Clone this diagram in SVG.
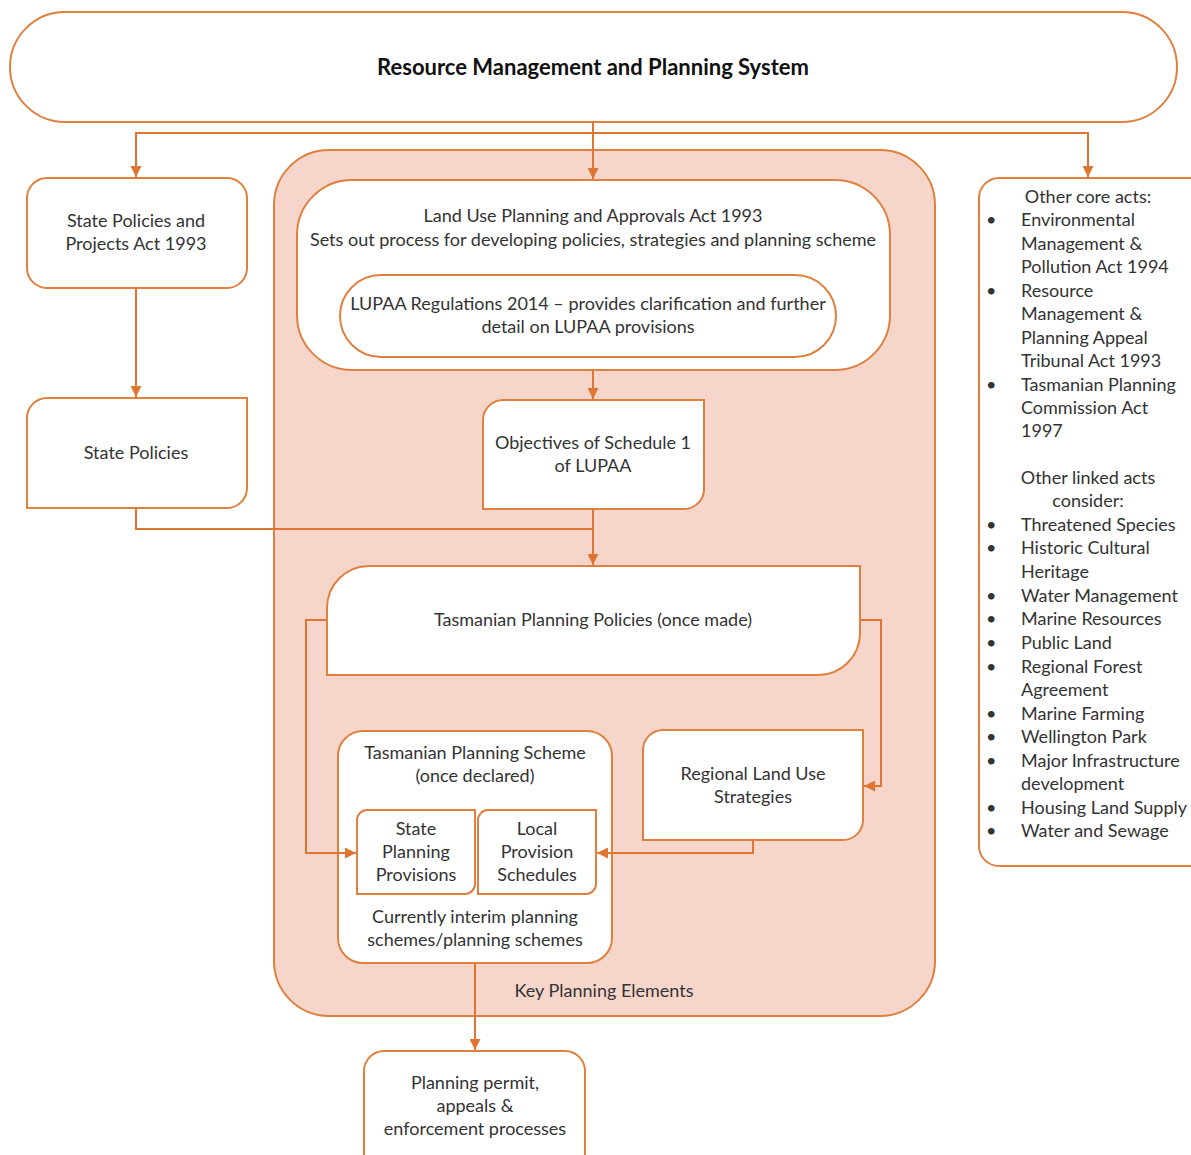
<svg xmlns="http://www.w3.org/2000/svg" width="1191" height="1155" viewBox="0 0 1191 1155">
<defs>
<marker id="arr" viewBox="0 0 10 10" refX="10" refY="5" markerWidth="11" markerHeight="11" markerUnits="userSpaceOnUse" orient="auto">
<path d="M0,0 L10,5 L0,10 Z" fill="#df7530"/>
</marker>
<style>
.box{fill:#ffffff;stroke:#e0803f;stroke-width:2}
.cont{fill:#f6d6cb;stroke:#e0803f;stroke-width:2}
.t{font-family:Lato,"Liberation Sans",sans-serif;font-size:18px;fill:#333;text-anchor:middle}
.l{font-family:Lato,"Liberation Sans",sans-serif;font-size:18px;fill:#333}
.title{font-family:Lato,"Liberation Sans",sans-serif;font-size:22px;font-weight:bold;fill:#111;text-anchor:middle}
.c{fill:none;stroke:#df7530;stroke-width:2}
</style>
</defs>

<g id="top">
<rect class="box" x="10" y="12" width="1167" height="110" rx="55" ry="55"/>
<text class="title" x="593" y="75">Resource Management and Planning System</text>
</g>

<g id="key-planning-elements">
<rect class="cont" x="274" y="150" width="661" height="866" rx="55" ry="55"/>
<text class="t" x="604" y="997">Key Planning Elements</text>
</g>

<g id="spp-act">
<rect class="box" x="27" y="178" width="220" height="110" rx="20" ry="20"/>
<text class="t" x="136" y="227">State Policies and</text>
<text class="t" x="136" y="250">Projects Act 1993</text>
</g>

<g id="state-policies">
<path class="box" d="M27,418 A20,20 0 0 1 47,398 H247 V488 A20,20 0 0 1 227,508 H27 Z"/>
<text class="t" x="136" y="459">State Policies</text>
</g>

<g id="lupaa">
<rect class="box" x="297" y="180" width="593" height="190" rx="55" ry="55"/>
<text class="t" x="593" y="222">Land Use Planning and Approvals Act 1993</text>
<text class="t" x="593" y="246">Sets out process for developing policies, strategies and planning scheme</text>
</g>

<g id="lupaa-regs">
<rect class="box" x="340" y="275" width="496" height="82" rx="41" ry="41"/>
<text class="t" x="588" y="310">LUPAA Regulations 2014 – provides clarification and further</text>
<text class="t" x="588" y="333">detail on LUPAA provisions</text>
</g>

<g id="objectives">
<path class="box" d="M483,420 A20,20 0 0 1 503,400 H704 V489 A20,20 0 0 1 684,509 H483 Z"/>
<text class="t" x="593" y="449">Objectives of Schedule 1</text>
<text class="t" x="593" y="472">of LUPAA</text>
</g>

<g id="tpp">
<path class="box" d="M327,608 A42,42 0 0 1 369,566 H860 V633 A42,42 0 0 1 818,675 H327 Z"/>
<text class="t" x="593" y="626">Tasmanian Planning Policies (once made)</text>
</g>

<g id="tps">
<rect class="box" x="338" y="731" width="274" height="232" rx="25" ry="25"/>
<text class="t" x="475" y="759">Tasmanian Planning Scheme</text>
<text class="t" x="475" y="782">(once declared)</text>
<text class="t" x="475" y="923">Currently interim planning</text>
<text class="t" x="475" y="946">schemes/planning schemes</text>
</g>

<g id="spp">
<path class="box" d="M357,820 A10,10 0 0 1 367,810 H475 V884 A10,10 0 0 1 465,894 H357 Z"/>
<text class="t" x="416" y="835">State</text>
<text class="t" x="416" y="858">Planning</text>
<text class="t" x="416" y="881">Provisions</text>
</g>

<g id="lps">
<path class="box" d="M478,820 A10,10 0 0 1 488,810 H596 V884 A10,10 0 0 1 586,894 H478 Z"/>
<text class="t" x="537" y="835">Local</text>
<text class="t" x="537" y="858">Provision</text>
<text class="t" x="537" y="881">Schedules</text>
</g>

<g id="regional">
<path class="box" d="M643,750 A20,20 0 0 1 663,730 H863 V820 A20,20 0 0 1 843,840 H643 Z"/>
<text class="t" x="753" y="780">Regional Land Use</text>
<text class="t" x="753" y="803">Strategies</text>
</g>

<g id="permit">
<rect class="box" x="364" y="1051" width="221" height="140" rx="20" ry="20"/>
<text class="t" x="475" y="1089">Planning permit,</text>
<text class="t" x="475" y="1112">appeals &amp;</text>
<text class="t" x="475" y="1135">enforcement processes</text>
</g>

<g id="other-acts">
<rect class="box" x="979" y="178" width="240" height="688" rx="20" ry="20"/>
<text class="t" x="1088" y="203">Other core acts:</text>
<g class="l">
<text x="986" y="226">•</text><text x="1021" y="226">Environmental</text>
<text x="1021" y="250">Management &amp;</text>
<text x="1021" y="273">Pollution Act 1994</text>
<text x="986" y="297">•</text><text x="1021" y="297">Resource</text>
<text x="1021" y="320">Management &amp;</text>
<text x="1021" y="344">Planning Appeal</text>
<text x="1021" y="367">Tribunal Act 1993</text>
<text x="986" y="391">•</text><text x="1021" y="391">Tasmanian Planning</text>
<text x="1021" y="414">Commission Act</text>
<text x="1021" y="437">1997</text>
</g>
<text class="t" x="1088" y="484">Other linked acts</text>
<text class="t" x="1088" y="507">consider:</text>
<g class="l">
<text x="986" y="531">•</text><text x="1021" y="531">Threatened Species</text>
<text x="986" y="554">•</text><text x="1021" y="554">Historic Cultural</text>
<text x="1021" y="578">Heritage</text>
<text x="986" y="602">•</text><text x="1021" y="602">Water Management</text>
<text x="986" y="625">•</text><text x="1021" y="625">Marine Resources</text>
<text x="986" y="649">•</text><text x="1021" y="649">Public Land</text>
<text x="986" y="673">•</text><text x="1021" y="673">Regional Forest</text>
<text x="1021" y="696">Agreement</text>
<text x="986" y="720">•</text><text x="1021" y="720">Marine Farming</text>
<text x="986" y="743">•</text><text x="1021" y="743">Wellington Park</text>
<text x="986" y="767">•</text><text x="1021" y="767">Major Infrastructure</text>
<text x="1021" y="790">development</text>
<text x="986" y="814">•</text><text x="1021" y="814">Housing Land Supply</text>
<text x="986" y="837">•</text><text x="1021" y="837">Water and Sewage</text>
</g>
</g>

<g id="connectors">
<path class="c" d="M593,122 V133 H136 V177" marker-end="url(#arr)"/>
<path class="c" d="M593,133 V179" marker-end="url(#arr)"/>
<path class="c" d="M593,133 H1088 V177" marker-end="url(#arr)"/>
<path class="c" d="M136,288 V397" marker-end="url(#arr)"/>
<path class="c" d="M593,370 V399" marker-end="url(#arr)"/>
<path class="c" d="M136,508 V529 H593"/>
<path class="c" d="M593,509 V565" marker-end="url(#arr)"/>
<path class="c" d="M327,620 H306 V853 H356" marker-end="url(#arr)"/>
<path class="c" d="M860,620 H881 V786 H864" marker-end="url(#arr)"/>
<path class="c" d="M753,840 V853 H597" marker-end="url(#arr)"/>
<path class="c" d="M475,963 V1050" marker-end="url(#arr)"/>
</g>
</svg>
